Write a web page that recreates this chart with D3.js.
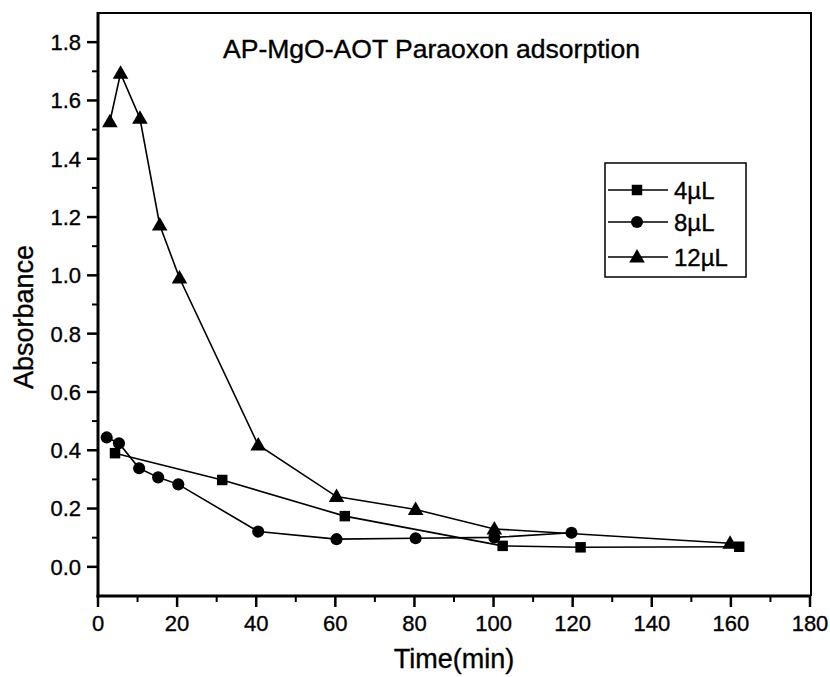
<!DOCTYPE html>
<meta charset="utf-8" />
<title>AP-MgO-AOT Paraoxon adsorption</title>
<style>
  body { margin: 0; background: #fff; }
  svg { display: block; font-family: Arial, "Liberation Sans", sans-serif; }
  text { fill: #000; stroke: #000; stroke-width: 0.35px; }
  .tick-label { font-size: 22px; }
  .axis-title { font-size: 27px; }
  .legend-text { font-size: 24px; }
</style>
<body>
<svg width="830" height="677"></svg>
<script src="https://d3js.org/d3.v7.min.js"></script>
<script>
  // time in minutes, absorbance
  const t4 = [4.3, 31.4, 62.4, 102.3, 122, 162.1];
  const a4 = [0.390, 0.298, 0.174, 0.072, 0.067, 0.069];

  const t8 = [2.2, 5.3, 10.4, 15.2, 20.3, 40.5, 60.3, 80.3, 100.2, 119.7];
  const a8 = [0.444, 0.424, 0.338, 0.307, 0.283, 0.121, 0.095, 0.098, 0.101, 0.117];

  const t12 = [3.0, 5.7, 10.6, 15.6, 20.6, 40.5, 60.3, 80.3, 100.2, 159.8];
  const a12 = [1.527, 1.693, 1.539, 1.173, 0.991, 0.418, 0.241, 0.197, 0.130, 0.081];

  const seriesNames = ["4\u00b5L", "8\u00b5L", "12\u00b5L"];
  const seriesShapes = ["square", "circle", "triangle"];
  const xTicks = [0, 20, 40, 60, 80, 100, 120, 140, 160, 180];
  const yTicks = [0.0, 0.2, 0.4, 0.6, 0.8, 1.0, 1.2, 1.4, 1.6, 1.8];

  const series = [
    { name: seriesNames[0], shape: seriesShapes[0], pts: t4.map((t, i) => [t, a4[i]]) },
    { name: seriesNames[1], shape: seriesShapes[1], pts: t8.map((t, i) => [t, a8[i]]) },
    { name: seriesNames[2], shape: seriesShapes[2], pts: t12.map((t, i) => [t, a12[i]]) }
  ];

  const svg = d3.select("svg");
  const pLeft = 98, pRight = 811, pTop = 13, pBottom = 596;

  const x = d3.scaleLinear().domain([0, 180]).range([pLeft, 810]);
  const y = d3.scaleLinear().domain([-0.1, 1.9]).range([pBottom, pTop]);

  // frame (top + right)
  svg.append("path")
    .attr("d", `M${pLeft},${pTop}H${pRight}V${pBottom}`)
    .attr("fill", "none").attr("stroke", "#000").attr("stroke-width", 2);

  // x axis
  const xMinor = d3.range(10, 180, 20);
  svg.append("g").selectAll("line").data(xMinor).join("line")
    .attr("x1", d => x(d)).attr("x2", d => x(d))
    .attr("y1", pBottom).attr("y2", pBottom + 6)
    .attr("stroke", "#000").attr("stroke-width", 2);
  svg.append("g").selectAll("line").data(xTicks).join("line")
    .attr("x1", d => x(d)).attr("x2", d => x(d))
    .attr("y1", pBottom).attr("y2", pBottom + 11)
    .attr("stroke", "#000").attr("stroke-width", 2.5);
  svg.append("g").selectAll("text").data(xTicks).join("text")
    .attr("class", "tick-label")
    .attr("x", d => x(d)).attr("y", 631)
    .attr("text-anchor", "middle")
    .text(d => d);

  // y axis
  const yMinor = d3.range(1, 19, 2).map(d => d / 10);
  svg.append("g").selectAll("line").data(yMinor).join("line")
    .attr("x1", pLeft - 6).attr("x2", pLeft)
    .attr("y1", d => y(d)).attr("y2", d => y(d))
    .attr("stroke", "#000").attr("stroke-width", 2);
  svg.append("g").selectAll("line").data(yTicks).join("line")
    .attr("x1", pLeft - 11).attr("x2", pLeft)
    .attr("y1", d => y(d)).attr("y2", d => y(d))
    .attr("stroke", "#000").attr("stroke-width", 2.5);
  svg.append("g").selectAll("text").data(yTicks).join("text")
    .attr("class", "tick-label")
    .attr("x", 81).attr("y", d => y(d))
    .attr("dy", "0.36em")
    .attr("text-anchor", "end")
    .text(d => d.toFixed(1));

  svg.append("line").attr("x1", pLeft - 1.5).attr("x2", pRight).attr("y1", pBottom).attr("y2", pBottom)
    .attr("stroke", "#000").attr("stroke-width", 3);
  svg.append("line").attr("x1", pLeft).attr("x2", pLeft).attr("y1", pTop - 1).attr("y2", pBottom + 1.5)
    .attr("stroke", "#000").attr("stroke-width", 3);

  // titles
  svg.append("text").attr("class", "axis-title")
    .attr("x", 454).attr("y", 668).attr("text-anchor", "middle")
    .text("Time(min)");
  svg.append("text").attr("class", "axis-title")
    .attr("transform", "translate(33,317) rotate(-90)")
    .attr("text-anchor", "middle")
    .text("Absorbance");
  svg.append("text")
    .attr("x", 223).attr("y", 58)
    .attr("textLength", 417).attr("lengthAdjust", "spacingAndGlyphs")
    .style("font-size", "25px")
    .text("AP-MgO-AOT Paraoxon adsorption");

  // markers
  const sym = {
    square: d3.symbol().type(d3.symbolSquare).size(110),
    circle: d3.symbol().type(d3.symbolCircle).size(115),
    triangle: d3.symbol().type(d3.symbolTriangle).size(105)
  };

  const line = d3.line().x(d => x(d[0])).y(d => y(d[1]));

  series.forEach(s => {
    svg.append("path")
      .datum(s.pts)
      .attr("d", line)
      .attr("fill", "none")
      .attr("stroke", "#000")
      .attr("stroke-width", 1.6);
  });
  series.forEach(s => {
    svg.append("g").selectAll("path").data(s.pts).join("path")
      .attr("d", sym[s.shape])
      .attr("transform", d => `translate(${x(d[0])},${y(d[1]) + (s.shape === "triangle" ? 1 : 0)})`)
      .attr("fill", "#000");
  });

  // legend
  const lg = svg.append("g");
  lg.append("rect")
    .attr("x", 605).attr("y", 163).attr("width", 141).attr("height", 114)
    .attr("fill", "#fff").attr("stroke", "#000").attr("stroke-width", 1.5);
  const ly = [190, 222, 257];
  series.forEach((s, i) => {
    lg.append("line").attr("x1", 608).attr("x2", 668).attr("y1", ly[i]).attr("y2", ly[i])
      .attr("stroke", "#000").attr("stroke-width", 1.6);
    lg.append("path").attr("d", sym[s.shape])
      .attr("transform", `translate(637,${ly[i] + (s.shape === "triangle" ? 1 : 0)})`)
      .attr("fill", "#000");
    lg.append("text").attr("class", "legend-text")
      .attr("x", 674).attr("y", ly[i]).attr("dy", "0.36em")
      .text(s.name);
  });
</script>
</body>
